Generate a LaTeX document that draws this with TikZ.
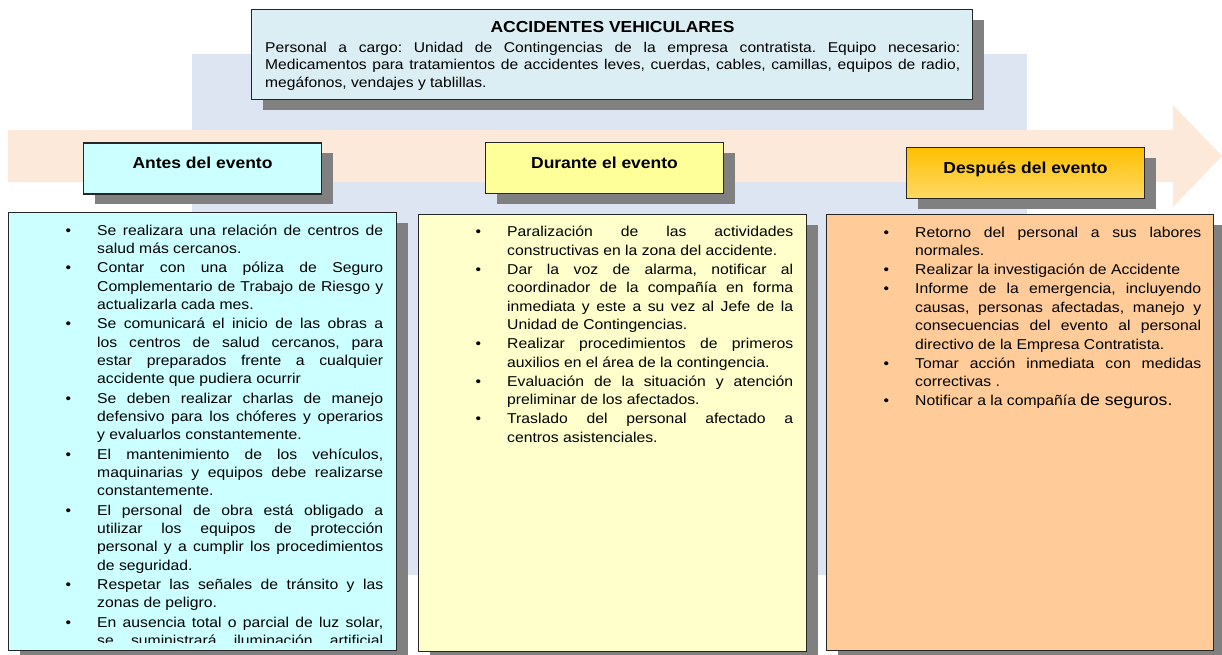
\documentclass[tikz,border=0pt]{standalone}
\usepackage{fontspec}
\setmainfont{Liberation Sans}[FakeStretch=1.1]
\usetikzlibrary{shadows}

\definecolor{fondoazul}{RGB}{220,229,241}
\definecolor{flecha}{RGB}{253,233,218}
\definecolor{titulo}{RGB}{219,238,244}
\definecolor{celeste}{RGB}{204,255,255}
\definecolor{amarillo}{RGB}{255,255,153}
\definecolor{crema}{RGB}{255,255,204}
\definecolor{naranja}{RGB}{255,192,0}
\definecolor{naranjaclaro}{RGB}{255,217,102}
\definecolor{durazno}{RGB}{255,204,153}
\definecolor{sombra}{RGB}{128,128,128}

% bullet items for the lists
\newcommand{\vinetauno}{\noindent\llap{\textbullet\hspace{26pt}}}
\newcommand{\vineta}{\par\vinetauno}

\tikzset{
  caja/.style={draw=black!85, line width=1.2pt, inner sep=0pt,
    general shadow={fill=sombra, shadow xshift=11pt, shadow yshift=-10pt}},
  cabecera/.style={caja, minimum width=238pt, minimum height=51pt,
    font=\fontsize{15.9}{18}\selectfont\bfseries, text height=12pt, text depth=12pt},
  lista/.style={text width=286pt, align=justify, inner sep=0pt, anchor=base west,
    font=\fontsize{14.3}{18.4}\selectfont,
    execute at begin node={\tolerance=10000 \hyphenpenalty=10000 \parskip=0.8pt \frenchspacing}}
}

\begin{document}
\begin{tikzpicture}[x=1pt, y=-1pt]
\useasboundingbox (0,0) rectangle (1222,654);

% Background and arrow
\fill[fondoazul] (192,54) rectangle (1027,575);
\fill[flecha] (8,130) -- (1173,130) -- (1173,105) -- (1222,156)
      -- (1173,207) -- (1173,182) -- (8,182) -- cycle;

% Title
\node[caja, fill=titulo, minimum width=721pt, minimum height=90pt, anchor=north west]
      (titulo) at (251,9) {};
\node[anchor=base, font=\fontsize{15.9}{18}\selectfont\bfseries] (tituloCab) at (612.5,32)
      {ACCIDENTES VEHICULARES};
\node[anchor=base west, text width=695pt, align=justify, inner sep=0pt,
      font=\fontsize{14.2}{17.8}\selectfont,
      execute at begin node={\tolerance=10000 \hyphenpenalty=10000 \frenchspacing}] (tituloTexto) at (265,52)
      {Personal a cargo: Unidad de Contingencias de la empresa contratista. Equipo necesario:\linebreak
       Medicamentos para tratamientos de accidentes leves, cuerdas, cables, camillas, equipos de radio,\linebreak
       megáfonos, vendajes y tablillas.};

% Headers
\node[cabecera, fill=celeste] (antes) at (202.5,168.5) {Antes del evento};
\node[cabecera, fill=amarillo] (durante) at (604.5,168) {Durante el evento};
\node[cabecera, top color=naranja, bottom color=naranjaclaro] (despues) at (1025.5,173)
      {Después del evento};

% Boxes
\node[caja, fill=celeste, minimum width=388pt, minimum height=438pt, anchor=north west]
      (antesCaja) at (8,212) {};
\node[caja, fill=crema, minimum width=388pt, minimum height=437pt, anchor=north west]
      (duranteCaja) at (418,214) {};
\node[caja, fill=durazno, minimum width=387pt, minimum height=436pt, anchor=north west]
      (despuesCaja) at (826,214) {};

% Lists
\begin{scope}
\clip (antesCaja.north west) rectangle ([yshift=9pt]antesCaja.south east);
\node[lista] (antesTexto) at (97,235) {%
\vinetauno Se realizara una relación de centros de\linebreak salud más cercanos.
\vineta Contar con una póliza de Seguro\linebreak Complementario de Trabajo de Riesgo y\linebreak actualizarla cada mes.
\vineta Se comunicará el inicio de las obras a\linebreak los centros de salud cercanos, para\linebreak estar preparados frente a cualquier\linebreak accidente que pudiera ocurrir
\vineta Se deben realizar charlas de manejo\linebreak defensivo para los chóferes y operarios\linebreak y evaluarlos constantemente.
\vineta El mantenimiento de los vehículos,\linebreak maquinarias y equipos debe realizarse\linebreak constantemente.
\vineta El personal de obra está obligado a\linebreak utilizar los equipos de protección\linebreak personal y a cumplir los procedimientos\linebreak de seguridad.
\vineta Respetar las señales de tránsito y las\linebreak zonas de peligro.
\vineta En ausencia total o parcial de luz solar,\linebreak se suministrará iluminación artificial\linebreak};
\end{scope}

\node[lista] (duranteTexto) at (507,236.7) {%
\vinetauno Paralización de las actividades\linebreak constructivas en la zona del accidente.
\vineta Dar la voz de alarma, notificar al\linebreak coordinador de la compañía en forma\linebreak inmediata y este a su vez al Jefe de la\linebreak Unidad de Contingencias.
\vineta Realizar procedimientos de primeros\linebreak auxilios en el área de la contingencia.
\vineta Evaluación de la situación y atención\linebreak preliminar de los afectados.
\vineta Traslado del personal afectado a\linebreak centros asistenciales.};

\node[lista] (despuesTexto) at (915,237) {%
\vinetauno Retorno del personal a sus labores\linebreak normales.
\vineta Realizar la investigación de Accidente
\vineta Informe de la emergencia, incluyendo\linebreak causas, personas afectadas, manejo y\linebreak consecuencias del evento al personal\linebreak directivo de la Empresa Contratista.
\vineta Tomar acción inmediata con medidas\linebreak correctivas .
\vineta Notificar a la compañía {\fontsize{16}{18.4}\selectfont de seguros.}};

\end{tikzpicture}
\end{document}
